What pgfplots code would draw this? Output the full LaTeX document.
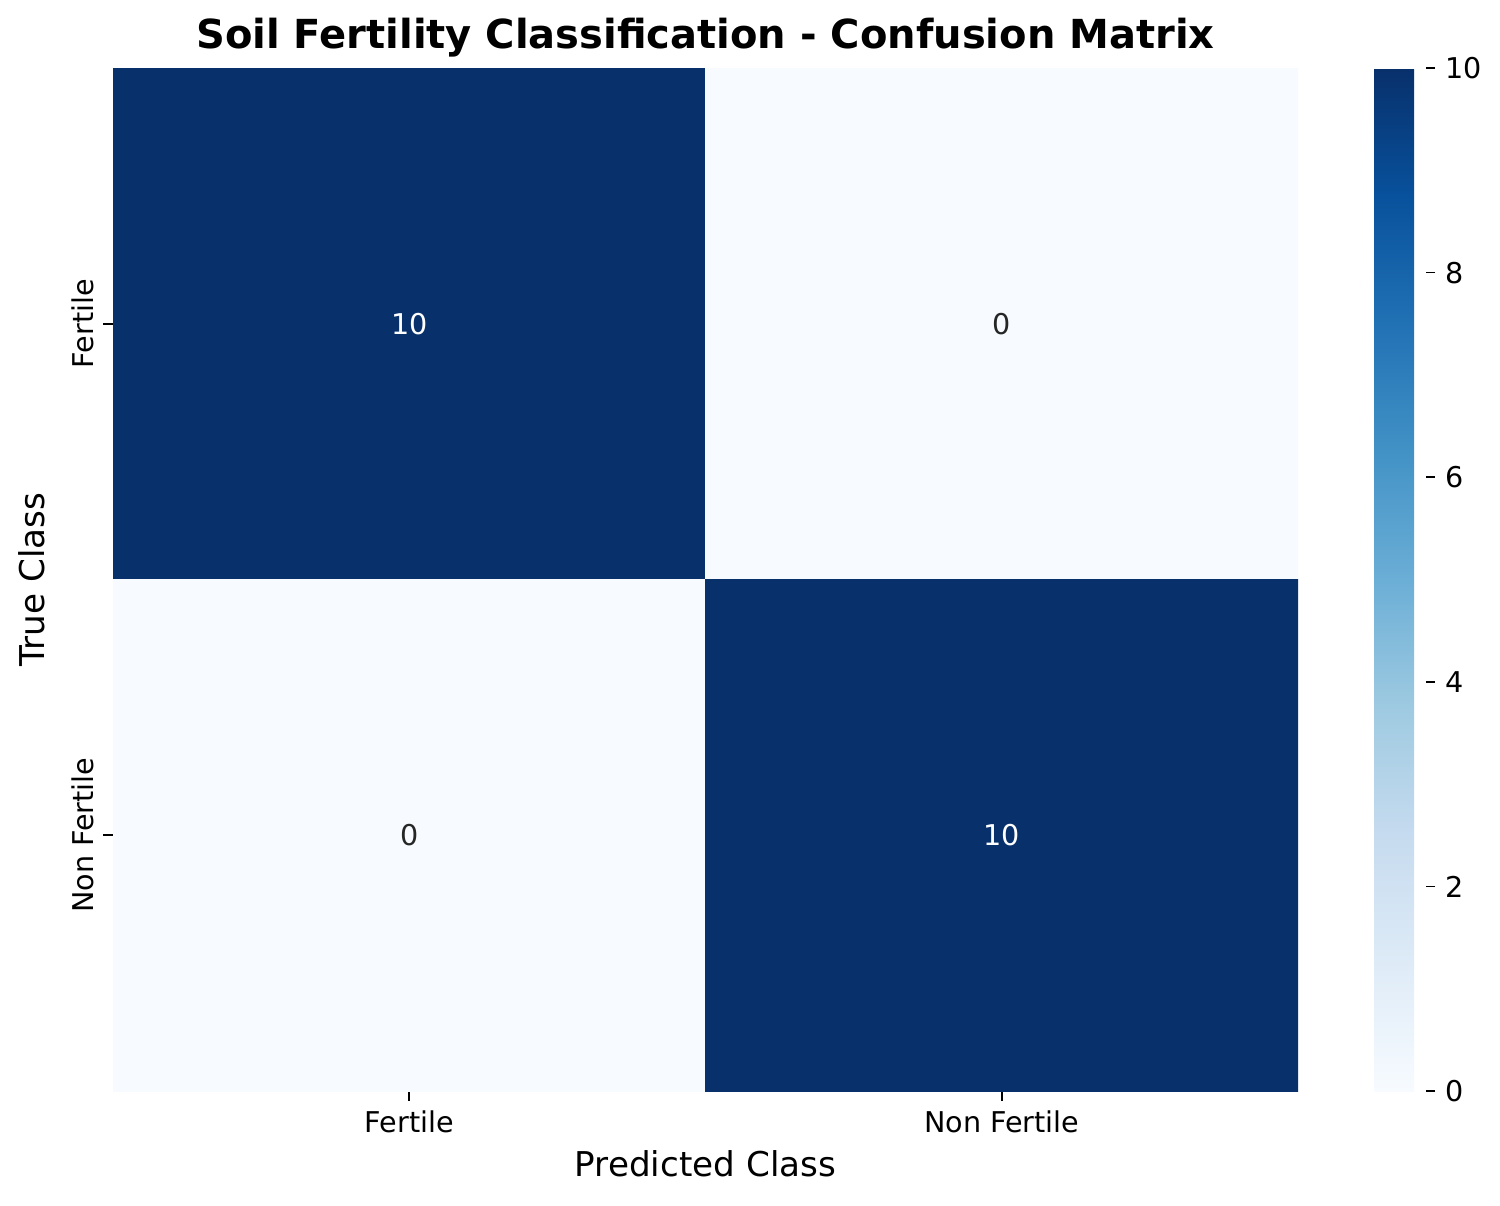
\documentclass[border=0pt]{standalone}
\usepackage{pgfplots}
\pgfplotsset{compat=1.18}
\usepackage{fontspec}
\setmainfont{DejaVu Sans}
\pgfplotsset{/pgf/number format/assume math mode=true}

% matplotlib "Blues"
\pgfplotsset{colormap={mplblues}{
  rgb255=(247,251,255) rgb255=(222,235,247) rgb255=(198,219,239)
  rgb255=(158,202,225) rgb255=(107,174,214) rgb255=(66,146,198)
  rgb255=(33,113,181) rgb255=(8,81,156) rgb255=(8,48,107)}}

\begin{document}
\begin{tikzpicture}
\path[use as bounding box] (0,0) rectangle (540pt,433.8pt);
\begin{axis}[
    at={(40.68pt,41.04pt)}, anchor=south west,
    scale only axis,
    width=426.6pt, height=368.28pt,
    colormap name=mplblues,
    point meta min=0, point meta max=10,
    enlargelimits=false,
    xmin=-0.5, xmax=1.5, ymin=-0.5, ymax=1.5,
    y dir=reverse,
    axis line style={draw=none},
    xtick={0,1}, ytick={0,1},
    xticklabels={Fertile, Non Fertile},
    yticklabels={Fertile, Non Fertile},
    xtick pos=left, ytick pos=left,
    tick align=outside,
    major tick length=3.5pt,
    tick style={black, line width=0.6pt},
    ticklabel style={font=\fontsize{10.3}{12}\selectfont},
    yticklabel style={rotate=90, anchor=south},
    title={\textbf{Soil Fertility Classification - Confusion Matrix}},
    title style={font=\fontsize{14.4}{17}\selectfont, at={(0.5,1)}, anchor=base, yshift=1.2pt, inner sep=0pt},
    xlabel={Predicted Class},
    ylabel={True Class},
    label style={font=\fontsize{12.3}{14}\selectfont},
    xlabel style={at={(0.5,0)}, anchor=base, yshift=-30.6pt, inner sep=0pt},
    ylabel style={at={(0,0.5)}, anchor=base, yshift=24.8pt, inner sep=0pt},
    colorbar,
    colorbar style={
        at={(parent axis.north east)}, anchor=north west, xshift=19pt,
        width=18.36pt,
        ytick={0,2,4,6,8,10},
        ytick pos=right,
        axis line style={draw=none},
        tick align=outside,
        major tick length=3.5pt,
        tick style={black, line width=0.6pt},
        yticklabel style={font=\fontsize{10.3}{12}\selectfont},
    },
]
\addplot[matrix plot*, mesh/cols=2, point meta=explicit] table[meta=c] {
x y c
0 0 10
1 0 0
0 1 0
1 1 10
};
\addplot[only marks, mark=none, nodes near coords, point meta=explicit symbolic,
    nodes near coords style={anchor=center, text=white, font=\fontsize{10.3}{12}\selectfont}]
    table[meta=t] {
x y t
0 0 10
1 1 10
};
\addplot[only marks, mark=none, nodes near coords, point meta=explicit symbolic,
    nodes near coords style={anchor=center, text=black!85, font=\fontsize{10.3}{12}\selectfont}]
    table[meta=t] {
x y t
1 0 0
0 1 0
};
\end{axis}
\end{tikzpicture}
\end{document}
